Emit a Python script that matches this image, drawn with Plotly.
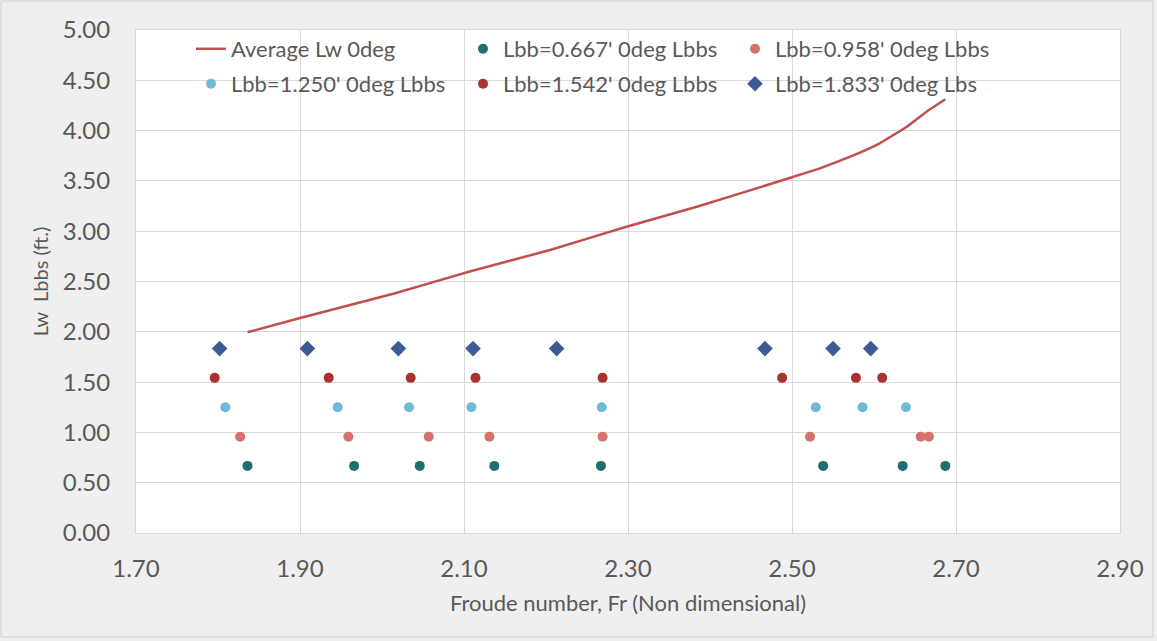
import plotly.graph_objects as go

# Average wetted length curve
avg_fr = [1.836, 1.899, 2.016, 2.107, 2.205, 2.296, 2.388, 2.496, 2.534,
          2.571, 2.607, 2.640, 2.664, 2.687]
avg_lw = [1.995, 2.134, 2.383, 2.600, 2.813, 3.039, 3.253, 3.526, 3.625,
          3.741, 3.874, 4.039, 4.188, 4.311]

# Froude numbers for each bow-bubble length (Lbb)
fr_0667 = [1.836, 1.966, 2.046, 2.137, 2.267, 2.538, 2.635, 2.687]
fr_0958 = [1.827, 1.959, 2.057, 2.131, 2.269, 2.522, 2.657, 2.667]
fr_1250 = [1.809, 1.946, 2.033, 2.109, 2.268, 2.529, 2.586, 2.639]
fr_1542 = [1.796, 1.935, 2.035, 2.114, 2.269, 2.488, 2.578, 2.610]
fr_1833 = [1.802, 1.909, 2.020, 2.111, 2.213, 2.467, 2.550, 2.596]

lbb_values = [0.667, 0.958, 1.250, 1.542, 1.833]
series_names = ["Lbb=0.667' 0deg Lbbs", "Lbb=0.958' 0deg Lbbs",
                "Lbb=1.250' 0deg Lbbs", "Lbb=1.542' 0deg Lbbs",
                "Lbb=1.833' 0deg Lbs"]
series_fr = [fr_0667, fr_0958, fr_1250, fr_1542, fr_1833]
series_colors = ["#1f6e73", "#d6716b", "#6dbad9", "#a83234", "#3c5a94"]
series_symbols = ["circle", "circle", "circle", "circle", "diamond"]
series_sizes = [10, 10, 10, 10, 12]
series_legend = ["legend", "legend", "legend2", "legend2", "legend2"]

x_ticks = [1.70, 1.90, 2.10, 2.30, 2.50, 2.70, 2.90]
y_ticks = [0.0, 0.5, 1.0, 1.5, 2.0, 2.5, 3.0, 3.5, 4.0, 4.5, 5.0]

FONT = "Lato, Carlito, Calibri, sans-serif"
TXT = "#595959"
GRID = "#d9d9d9"

fig = go.Figure()

fig.add_trace(go.Scatter(
    x=avg_fr, y=avg_lw, mode="lines", name="Average Lw 0deg",
    line=dict(color="#c0504d", width=2.5, shape="spline", smoothing=0.3),
    legend="legend",
))

for name, frs, lbb, col, sym, sz, lg in zip(series_names, series_fr, lbb_values,
                                             series_colors, series_symbols,
                                             series_sizes, series_legend):
    fig.add_trace(go.Scatter(
        x=frs, y=[lbb] * len(frs), mode="markers", name=name,
        marker=dict(color=col, symbol=sym, size=sz, line=dict(width=0)),
        legend=lg,
    ))

W, H = 1157, 641
L, R, T, B = 136, 37, 30, 108
pw, ph = W - L - R, H - T - B


def px_x(p):
    return (p - L) / pw


def px_y(p):
    return (H - B - p) / ph


legend_common = dict(
    orientation="h", xanchor="left", yanchor="middle",
    bgcolor="rgba(0,0,0,0)", borderwidth=0,
    font=dict(family=FONT, size=22, color=TXT),
    entrywidth=227, entrywidthmode="pixels",
    itemwidth=30, tracegroupgap=0,
)

fig.update_layout(
    width=W, height=H,
    margin=dict(l=L, r=R, t=T, b=B),
    paper_bgcolor="#efefef",
    plot_bgcolor="#ffffff",
    font=dict(family=FONT, color=TXT),
    legend=dict(x=px_x(191), y=px_y(49), **legend_common),
    legend2=dict(x=px_x(191), y=px_y(84), **legend_common),
    xaxis=dict(
        range=[1.70, 2.90], tickvals=x_ticks,
        ticktext=[f"{v:.2f}" for v in x_ticks],
        showgrid=True, gridcolor=GRID, gridwidth=1,
        showline=True, linecolor=GRID, linewidth=1, mirror=True,
        zeroline=False, ticks="", ticklabelstandoff=14,
        tickfont=dict(family=FONT, size=24, color=TXT),
        title=dict(text="Froude number, Fr (Non dimensional)",
                   font=dict(family=FONT, size=22, color=TXT), standoff=14),
    ),
    yaxis=dict(
        range=[0, 5], tickvals=y_ticks,
        ticktext=[f"{v:.2f}" for v in y_ticks],
        showgrid=True, gridcolor=GRID, gridwidth=1,
        showline=True, linecolor=GRID, linewidth=1, mirror=True,
        zeroline=False, ticks="", ticklabelstandoff=20,
        tickfont=dict(family=FONT, size=24, color=TXT),
        title=dict(text="Lw  Lbbs (ft.)",
                   font=dict(family=FONT, size=20, color=TXT), standoff=8),
    ),
    shapes=[
        dict(type="rect", xref="paper", yref="paper", layer="above",
             x0=px_x(1), x1=px_x(W - 4), y0=px_y(H - 4), y1=px_y(1),
             line=dict(color="#d0d0d0", width=1), fillcolor="rgba(0,0,0,0)"),
    ],
)

fig.write_html("out.html")
